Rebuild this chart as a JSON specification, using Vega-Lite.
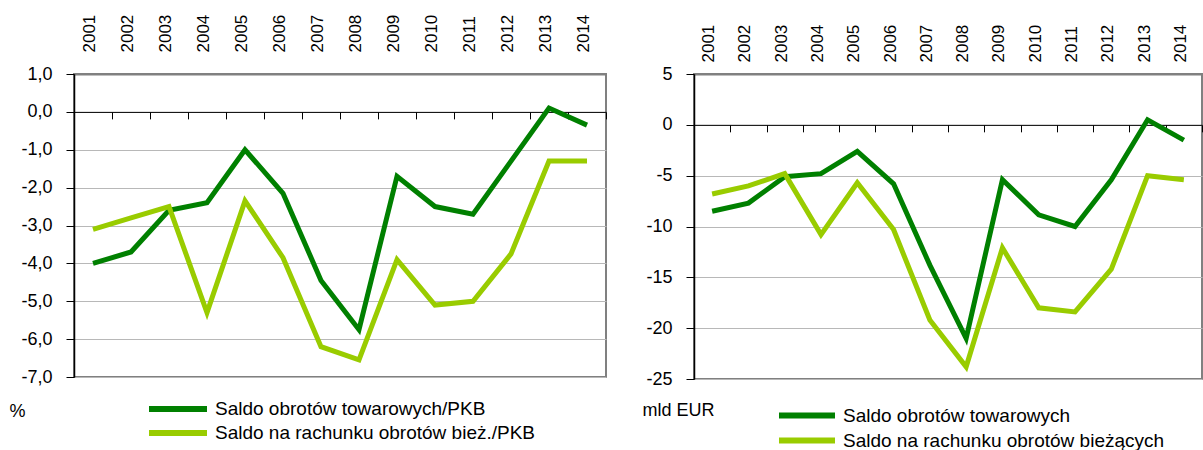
{
  "$schema": "https://vega.github.io/schema/vega-lite/v6.json",
  "padding": {"left": 8, "top": 13, "right": 0, "bottom": 0},
  "background": "white",
  "bounds": "flush",
  "spacing": 88,
  "datasets": {
    "left": [
      {"year": "2001", "series": "Saldo obrotów towarowych/PKB", "value": -4.0},
      {"year": "2002", "series": "Saldo obrotów towarowych/PKB", "value": -3.7},
      {"year": "2003", "series": "Saldo obrotów towarowych/PKB", "value": -2.6},
      {"year": "2004", "series": "Saldo obrotów towarowych/PKB", "value": -2.4},
      {"year": "2005", "series": "Saldo obrotów towarowych/PKB", "value": -1.0},
      {"year": "2006", "series": "Saldo obrotów towarowych/PKB", "value": -2.15},
      {"year": "2007", "series": "Saldo obrotów towarowych/PKB", "value": -4.45},
      {"year": "2008", "series": "Saldo obrotów towarowych/PKB", "value": -5.75},
      {"year": "2009", "series": "Saldo obrotów towarowych/PKB", "value": -1.7},
      {"year": "2010", "series": "Saldo obrotów towarowych/PKB", "value": -2.5},
      {"year": "2011", "series": "Saldo obrotów towarowych/PKB", "value": -2.7},
      {"year": "2012", "series": "Saldo obrotów towarowych/PKB", "value": -1.3},
      {"year": "2013", "series": "Saldo obrotów towarowych/PKB", "value": 0.1},
      {"year": "2014", "series": "Saldo obrotów towarowych/PKB", "value": -0.35},
      {"year": "2001", "series": "Saldo na rachunku obrotów bież./PKB", "value": -3.1},
      {"year": "2002", "series": "Saldo na rachunku obrotów bież./PKB", "value": -2.8},
      {"year": "2003", "series": "Saldo na rachunku obrotów bież./PKB", "value": -2.5},
      {"year": "2004", "series": "Saldo na rachunku obrotów bież./PKB", "value": -5.3},
      {"year": "2005", "series": "Saldo na rachunku obrotów bież./PKB", "value": -2.35},
      {"year": "2006", "series": "Saldo na rachunku obrotów bież./PKB", "value": -3.85},
      {"year": "2007", "series": "Saldo na rachunku obrotów bież./PKB", "value": -6.2},
      {"year": "2008", "series": "Saldo na rachunku obrotów bież./PKB", "value": -6.55},
      {"year": "2009", "series": "Saldo na rachunku obrotów bież./PKB", "value": -3.9},
      {"year": "2010", "series": "Saldo na rachunku obrotów bież./PKB", "value": -5.1},
      {"year": "2011", "series": "Saldo na rachunku obrotów bież./PKB", "value": -5.0},
      {"year": "2012", "series": "Saldo na rachunku obrotów bież./PKB", "value": -3.75},
      {"year": "2013", "series": "Saldo na rachunku obrotów bież./PKB", "value": -1.3},
      {"year": "2014", "series": "Saldo na rachunku obrotów bież./PKB", "value": -1.3}
    ],
    "right": [
      {"year": "2001", "series": "Saldo obrotów towarowych", "value": -8.5},
      {"year": "2002", "series": "Saldo obrotów towarowych", "value": -7.7},
      {"year": "2003", "series": "Saldo obrotów towarowych", "value": -5.1},
      {"year": "2004", "series": "Saldo obrotów towarowych", "value": -4.8},
      {"year": "2005", "series": "Saldo obrotów towarowych", "value": -2.6},
      {"year": "2006", "series": "Saldo obrotów towarowych", "value": -5.8},
      {"year": "2007", "series": "Saldo obrotów towarowych", "value": -13.8},
      {"year": "2008", "series": "Saldo obrotów towarowych", "value": -21.0},
      {"year": "2009", "series": "Saldo obrotów towarowych", "value": -5.4},
      {"year": "2010", "series": "Saldo obrotów towarowych", "value": -8.85},
      {"year": "2011", "series": "Saldo obrotów towarowych", "value": -10.0},
      {"year": "2012", "series": "Saldo obrotów towarowych", "value": -5.4},
      {"year": "2013", "series": "Saldo obrotów towarowych", "value": 0.5},
      {"year": "2014", "series": "Saldo obrotów towarowych", "value": -1.5},
      {"year": "2001", "series": "Saldo na rachunku obrotów bieżących", "value": -6.8},
      {"year": "2002", "series": "Saldo na rachunku obrotów bieżących", "value": -6.0},
      {"year": "2003", "series": "Saldo na rachunku obrotów bieżących", "value": -4.8},
      {"year": "2004", "series": "Saldo na rachunku obrotów bieżących", "value": -10.8},
      {"year": "2005", "series": "Saldo na rachunku obrotów bieżących", "value": -5.7},
      {"year": "2006", "series": "Saldo na rachunku obrotów bieżących", "value": -10.3},
      {"year": "2007", "series": "Saldo na rachunku obrotów bieżących", "value": -19.2},
      {"year": "2008", "series": "Saldo na rachunku obrotów bieżących", "value": -23.8},
      {"year": "2009", "series": "Saldo na rachunku obrotów bieżących", "value": -12.1},
      {"year": "2010", "series": "Saldo na rachunku obrotów bieżących", "value": -18.0},
      {"year": "2011", "series": "Saldo na rachunku obrotów bieżących", "value": -18.4},
      {"year": "2012", "series": "Saldo na rachunku obrotów bieżących", "value": -14.2},
      {"year": "2013", "series": "Saldo na rachunku obrotów bieżących", "value": -5.0},
      {"year": "2014", "series": "Saldo na rachunku obrotów bieżących", "value": -5.4}
    ]
  },
  "hconcat": [
    {
      "width": 532,
      "height": 303,
      "data": {"name": "left"},
      "layer": [
        {
          "mark": {"type": "tick", "opacity": 0},
          "encoding": {
            "x": {
              "field": "year", "type": "ordinal",
              "scale": {"type": "band", "paddingInner": 0, "paddingOuter": 0},
              "axis": {"orient": "bottom", "offset": -265.125, "labels": false, "title": null, "grid": false,
                       "domainColor": "black", "domainWidth": 1, "ticks": true, "tickBand": "extent",
                       "tickColor": "black", "tickSize": 7, "tickWidth": 1}
            }
          }
        },
        {
          "mark": {"type": "line", "strokeWidth": 5},
          "encoding": {
            "x": {
              "field": "year", "type": "ordinal", "bandPosition": 0.5,
              "scale": {"type": "band", "paddingInner": 0, "paddingOuter": 0},
              "axis": {"orient": "top", "title": null, "domain": false, "ticks": false, "tickSize": 0,
                       "labelAngle": -90, "labelPadding": 22, "labelOffset": -3, "labelBaseline": "middle",
                       "labelFont": "Liberation Sans", "labelFontSize": 17, "labelColor": "black", "grid": false}
            },
            "y": {
              "field": "value", "type": "quantitative",
              "scale": {"domain": [-7, 1], "nice": false, "zero": false},
              "axis": {
                "values": [1, 0, -1, -2, -3, -4, -5, -6, -7],
                "labelExpr": "replace(replace(format(datum.value, '.1f'), '.', ','), '\u2212', '-')",
                "title": "%", "titleAngle": 0, "titleX": -65, "titleY": 342, "titleAlign": "left", "titleBaseline": "alphabetic",
                "titleFont": "Liberation Sans", "titleFontSize": 18, "titleFontWeight": "normal", "titleColor": "black",
                "labelFont": "Liberation Sans", "labelFontSize": 18, "labelColor": "black", "labelPadding": 14,
                "domainColor": "black", "domainWidth": 1.5, "tickColor": "black", "tickSize": 8, "tickWidth": 1,
                "grid": true,
                "gridColor": {"condition": {"test": "datum.value === 1", "value": "#808080"}, "value": "#b8b8b8"},
                "gridWidth": {"condition": {"test": "datum.value === 1", "value": 2}, "value": 1.2}
              }
            },
            "color": {
              "field": "series", "type": "nominal",
              "scale": {"domain": ["Saldo obrotów towarowych/PKB", "Saldo na rachunku obrotów bież./PKB"], "range": ["#008000", "#99cc00"]},
              "legend": {"orient": "none", "legendX": 72, "legendY": 323, "direction": "vertical", "title": null,
                         "symbolType": "stroke", "symbolSize": 3364, "symbolStrokeWidth": 6, "clipHeight": 24,
                         "rowPadding": 0, "labelOffset": 5, "padding": 0, "labelLimit": 600,
                         "labelFont": "Liberation Sans", "labelFontSize": 19, "labelColor": "black"}
            }
          }
        }
      ],
      "resolve": {"axis": {"x": "independent"}}
    },
    {
      "width": 508,
      "height": 305,
      "data": {"name": "right"},
      "layer": [
        {
          "mark": {"type": "tick", "opacity": 0},
          "encoding": {
            "x": {
              "field": "year", "type": "ordinal",
              "scale": {"type": "band", "paddingInner": 0, "paddingOuter": 0},
              "axis": {"orient": "bottom", "offset": -254.17, "labels": false, "title": null, "grid": false,
                       "domainColor": "black", "domainWidth": 1, "ticks": true, "tickBand": "extent",
                       "tickColor": "black", "tickSize": 7, "tickWidth": 1}
            }
          }
        },
        {
          "mark": {"type": "line", "strokeWidth": 5},
          "encoding": {
            "x": {
              "field": "year", "type": "ordinal", "bandPosition": 0.5,
              "scale": {"type": "band", "paddingInner": 0, "paddingOuter": 0},
              "axis": {"orient": "top", "title": null, "domain": false, "ticks": false, "tickSize": 0,
                       "labelAngle": -90, "labelPadding": 12, "labelOffset": -3, "labelBaseline": "middle",
                       "labelFont": "Liberation Sans", "labelFontSize": 17, "labelColor": "black", "grid": false}
            },
            "y": {
              "field": "value", "type": "quantitative",
              "scale": {"domain": [-25, 5], "nice": false, "zero": false},
              "axis": {
                "values": [5, 0, -5, -10, -15, -20, -25],
                "labelExpr": "replace(format(datum.value, 'd'), '\u2212', '-')",
                "title": "mld EUR", "titleAngle": 0, "titleX": -52, "titleY": 341, "titleAlign": "left", "titleBaseline": "alphabetic",
                "titleFont": "Liberation Sans", "titleFontSize": 18, "titleFontWeight": "normal", "titleColor": "black",
                "labelFont": "Liberation Sans", "labelFontSize": 18, "labelColor": "black", "labelPadding": 14,
                "domainColor": "black", "domainWidth": 1.5, "tickColor": "black", "tickSize": 8, "tickWidth": 1,
                "grid": true,
                "gridColor": {"condition": {"test": "datum.value === 5", "value": "#808080"}, "value": "#b8b8b8"},
                "gridWidth": {"condition": {"test": "datum.value === 5", "value": 2}, "value": 1.2}
              }
            },
            "color": {
              "field": "series", "type": "nominal",
              "scale": {"domain": ["Saldo obrotów towarowych", "Saldo na rachunku obrotów bieżących"], "range": ["#008000", "#99cc00"]},
              "legend": {"orient": "none", "legendX": 82, "legendY": 329, "direction": "vertical", "title": null,
                         "symbolType": "stroke", "symbolSize": 3136, "symbolStrokeWidth": 6, "clipHeight": 25,
                         "rowPadding": 0, "labelOffset": 5, "padding": 0, "labelLimit": 600,
                         "labelFont": "Liberation Sans", "labelFontSize": 19, "labelColor": "black"}
            }
          }
        }
      ],
      "resolve": {"axis": {"x": "independent"}}
    }
  ],
  "resolve": {"scale": {"color": "independent"}, "legend": {"color": "independent"}},
  "config": {
    "view": {"stroke": "#808080", "strokeWidth": 2},
    "line": {"strokeJoin": "miter"}
  }
}
